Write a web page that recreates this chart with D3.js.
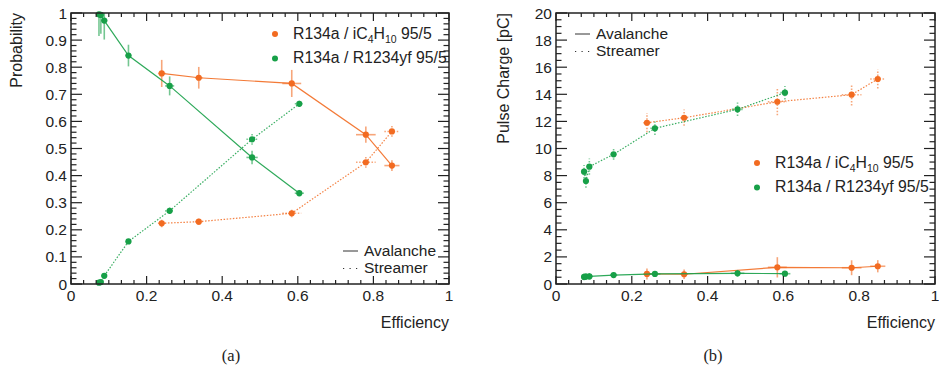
<!DOCTYPE html>
<html><head><meta charset="utf-8">
<script src="https://cdn.jsdelivr.net/npm/d3@7"></script>
<style>
body{margin:0;background:#fff;}
svg text{font-family:"Liberation Sans",Arial,sans-serif;fill:#222;}
</style></head>
<body><svg id="c" width="939" height="376"></svg>
<script>
// ---- data ----
const effIso = [0.240, 0.338, 0.584, 0.780, 0.849];
const effIsoErr = [0.010, 0.010, 0.025, 0.026, 0.020];
const effYf = [0.074, 0.079, 0.088, 0.152, 0.261, 0.479, 0.604];
const effYfErr = [0.006, 0.006, 0.008, 0.008, 0.012, 0.015, 0.012];

const probAvalIso = [0.777, 0.761, 0.740, 0.551, 0.437];
const probAvalIsoErr = [0.05, 0.04, 0.05, 0.03, 0.02];
const probStreamIso = [0.224, 0.230, 0.261, 0.449, 0.563];
const probStreamIsoErr = [0.015, 0.012, 0.015, 0.02, 0.02];
const probAvalYf = [0.995, 0.993, 0.972, 0.843, 0.731, 0.467, 0.335];
const probAvalYfErr = [0.08, 0.07, 0.07, 0.04, 0.035, 0.025, 0.012];
const probStreamYf = [0.005, 0.007, 0.030, 0.157, 0.270, 0.534, 0.665];
const probStreamYfErr = [0.004, 0.004, 0.008, 0.006, 0.012, 0.02, 0.012];

const chargeAvalIso = [0.74, 0.72, 1.23, 1.20, 1.31];
const chargeAvalIsoErr = [0.4, 0.35, 0.75, 0.55, 0.45];
const chargeStreamIso = [11.90, 12.27, 13.45, 13.97, 15.13];
const chargeStreamIsoErr = [0.7, 0.6, 1.0, 0.8, 0.7];
const chargeAvalYf = [0.52, 0.55, 0.56, 0.66, 0.74, 0.79, 0.76];
const chargeAvalYfErr = [0.25, 0.25, 0.25, 0.2, 0.2, 0.25, 0.2];
const chargeStreamYf = [8.29, 7.60, 8.66, 9.57, 11.49, 12.89, 14.12];
const chargeStreamYfErr = [0.5, 0.5, 0.6, 0.4, 0.5, 0.5, 0.5];

const xTicks = [0, 0.2, 0.4, 0.6, 0.8, 1];
const probTicks = [0, 0.1, 0.2, 0.3, 0.4, 0.5, 0.6, 0.7, 0.8, 0.9, 1];
const chargeTicks = [0, 2, 4, 6, 8, 10, 12, 14, 16, 18, 20];

const ORANGE = "#f26b21", GREEN = "#17a048";
const svg = d3.select("#c");

function panel(o){
  const x = d3.scaleLinear().domain([0,1]).range([o.x0, o.x1]);
  const y = d3.scaleLinear().domain(o.ydom).range([284, 13]);
  const g = svg.append("g");
  // series
  o.series.forEach(s=>{
    const pts = s.x.map((v,i)=>({x:v, y:s.y[i], ex:s.ex[i], ey:s.ey[i]}));
    const sg = g.append("g");
    const dash = s.dotted ? "1.5,1.6" : null;
    sg.selectAll(".ey").data(pts).join("line")
      .attr("x1",d=>x(d.x)).attr("x2",d=>x(d.x))
      .attr("y1",d=>y(Math.max(o.ydom[0], d.y-d.ey))).attr("y2",d=>y(Math.min(o.ydom[1], d.y+d.ey)))
      .attr("stroke",s.color).attr("stroke-width",1.6).attr("stroke-opacity",0.6)
      .attr("stroke-dasharray",dash);
    sg.selectAll(".ex").data(pts).join("line")
      .attr("x1",d=>x(d.x-d.ex)).attr("x2",d=>x(d.x+d.ex))
      .attr("y1",d=>y(d.y)).attr("y2",d=>y(d.y))
      .attr("stroke",s.color).attr("stroke-width",1.6).attr("stroke-opacity",0.6)
      .attr("stroke-dasharray",dash);
    sg.append("path").datum(pts)
      .attr("d", d3.line().x(d=>x(d.x)).y(d=>y(d.y)))
      .attr("fill","none").attr("stroke",s.color).attr("stroke-width",1.2)
      .attr("stroke-opacity", s.dotted?0.85:0.9)
      .attr("stroke-dasharray",dash);
    sg.selectAll("circle").data(pts).join("circle")
      .attr("cx",d=>x(d.x)).attr("cy",d=>y(d.y)).attr("r",3.1).attr("fill",s.color);
  });
  // frame
  const ax = g.append("g").attr("stroke","#222").attr("fill","none");
  ax.append("rect").attr("x",o.x0).attr("y",13).attr("width",o.x1-o.x0).attr("height",271)
    .attr("stroke-width",1.5);
  const xMinor = d3.range(0, 31).map(i=>i/30);
  xMinor.forEach((v,i)=>{
    const len = (i%6===0)?8:4;
    ax.append("line").attr("x1",x(v)).attr("x2",x(v)).attr("y1",284).attr("y2",284-len).attr("stroke-width",1.2);
    ax.append("line").attr("x1",x(v)).attr("x2",x(v)).attr("y1",13).attr("y2",13+len).attr("stroke-width",1.2);
  });
  const ysub = o.yMinorN;
  const step = (o.yTicks[1]-o.yTicks[0])/ysub;
  const n = Math.round((o.ydom[1]-o.ydom[0])/step);
  d3.range(0,n+1).forEach(i=>{
    const v = o.ydom[0]+i*step;
    const len = (i%ysub===0)?11:5.5;
    ax.append("line").attr("x1",o.x0).attr("x2",o.x0+len).attr("y1",y(v)).attr("y2",y(v)).attr("stroke-width",1.2);
    ax.append("line").attr("x1",o.x1).attr("x2",o.x1-len).attr("y1",y(v)).attr("y2",y(v)).attr("stroke-width",1.2);
  });
  // labels
  g.selectAll(".xl").data(xTicks).join("text")
    .attr("x",d=>x(d)).attr("y",300.5).attr("text-anchor","middle").attr("font-size",15.5)
    .text(d=>d3.format("~g")(d));
  g.selectAll(".yl").data(o.yTicks).join("text")
    .attr("x",o.x0-4).attr("y",d=>y(d)+5.5).attr("text-anchor","end").attr("font-size",15.5)
    .text(d=>d3.format("~g")(d));
  g.append("text").attr("x",o.x1).attr("y",328).attr("text-anchor","end").attr("font-size",16).text("Efficiency");
  g.append("text").attr("transform",`translate(${o.ylabX},13) rotate(-90)`).attr("text-anchor","end")
    .attr("font-size",16).text(o.ylabel);
  function gasLegend(lx, ly, color, parts){
    g.append("circle").attr("cx",lx).attr("cy",ly).attr("r",3).attr("fill",color);
    const t = g.append("text").attr("x",lx+18).attr("y",ly+4.5).attr("font-size",15.8);
    parts.forEach(p=>{
      const ts = t.append("tspan").text(p[0]);
      if(p[1]){ ts.attr("font-size",10.5).attr("dy",4); }
      else if(p[2]) { ts.attr("dy",-4); }
    });
  }
  gasLegend(o.gasLeg[0], o.gasLeg[1], ORANGE, [["R134a / iC"],["4",1],["H",0,1],["10",1],[" 95/5",0,1]]);
  gasLegend(o.gasLeg[0], o.gasLeg[1]+24.5, GREEN, [["R134a / R1234yf 95/5"]]);
  const [sx, sy] = o.styleLeg;
  g.append("line").attr("x1",sx).attr("x2",sx+15).attr("y1",sy).attr("y2",sy).attr("stroke","#333").attr("stroke-width",1);
  g.append("text").attr("x",sx+21).attr("y",sy+4.8).attr("font-size",15.5).text("Avalanche");
  g.append("line").attr("x1",sx).attr("x2",sx+16).attr("y1",sy+17.5).attr("y2",sy+17.5).attr("stroke","#333")
    .attr("stroke-width",1.2).attr("stroke-dasharray","1.2,5.3");
  g.append("text").attr("x",sx+21).attr("y",sy+22.3).attr("font-size",15.5).text("Streamer");
  svg.append("text").attr("x",o.capX).attr("y",361).attr("text-anchor","middle")
    .style("font-family","'Liberation Serif','Times New Roman',serif").attr("font-size",16.5).text(o.cap);
}

panel({x0:71, x1:449, ydom:[0,1], yTicks:probTicks, yMinorN:5, ylabel:"Probability", ylabX:22,
  gasLeg:[275,34], styleLeg:[343,251], capX:231, cap:"(a)",
  series:[
    {x:effIso, ex:effIsoErr, y:probAvalIso, ey:probAvalIsoErr, color:ORANGE, dotted:false},
    {x:effIso, ex:effIsoErr, y:probStreamIso, ey:probStreamIsoErr, color:ORANGE, dotted:true},
    {x:effYf, ex:effYfErr, y:probAvalYf, ey:probAvalYfErr, color:GREEN, dotted:false},
    {x:effYf, ex:effYfErr, y:probStreamYf, ey:probStreamYfErr, color:GREEN, dotted:true}
  ]});
panel({x0:556, x1:935, ydom:[0,20], yTicks:chargeTicks, yMinorN:4, ylabel:"Pulse Charge [pC]", ylabX:509,
  gasLeg:[757,163], styleLeg:[575,34], capX:713, cap:"(b)",
  series:[
    {x:effIso, ex:effIsoErr, y:chargeAvalIso, ey:chargeAvalIsoErr, color:ORANGE, dotted:false},
    {x:effIso, ex:effIsoErr, y:chargeStreamIso, ey:chargeStreamIsoErr, color:ORANGE, dotted:true},
    {x:effYf, ex:effYfErr.map(e=>e*1.2), y:chargeAvalYf, ey:chargeAvalYfErr, color:GREEN, dotted:false},
    {x:effYf, ex:effYfErr, y:chargeStreamYf, ey:chargeStreamYfErr, color:GREEN, dotted:true}
  ]});
</script></body></html>
